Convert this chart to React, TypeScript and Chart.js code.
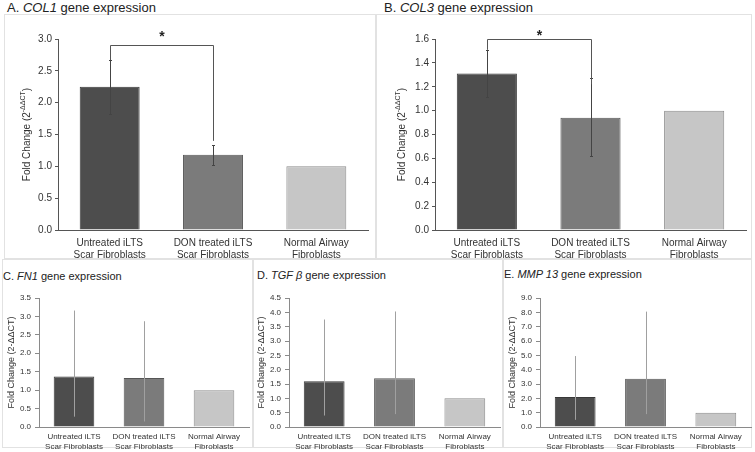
import React, { useEffect, useRef } from "react";
import { Chart, registerables } from "chart.js";
Chart.register(...registerables);

// ---------- data ----------
const categories = [
  ["Untreated iLTS", "Scar Fibroblasts"],
  ["DON treated iLTS", "Scar Fibroblasts"],
  ["Normal Airway", "Fibroblasts"],
];

const col1Values = [2.25, 1.18, 1.0];
const col1Low = [1.82, 1.02, null];
const col1High = [2.67, 1.33, null];
const col1Bracket = [2.9, 2.67, 1.4, 3.08]; // level, left end, right end, star
const col1Axis = [3.0, 0.5];

const col3Values = [1.31, 0.94, 1.0];
const col3Low = [1.11, 0.62, null];
const col3High = [1.51, 1.27, null];
const col3Bracket = [1.6, 1.51, 1.22, 1.65];
const col3Axis = [1.6, 0.2];

const fn1Values = [1.37, 1.33, 1.0];
const fn1Low = [0.28, 0.15, null];
const fn1High = [3.16, 2.87, null];
const fn1Axis = [3.5, 0.5];

const tgfValues = [1.6, 1.7, 1.0];
const tgfLow = [0.4, 0.45, null];
const tgfHigh = [3.75, 4.03, null];
const tgfAxis = [4.5, 0.5];

const mmpValues = [2.1, 3.37, 1.0];
const mmpLow = [0.5, 0.9, null];
const mmpHigh = [4.95, 8.05, null];
const mmpAxis = [9.0, 1.0];

const barFill = ["#4d4d4d", "#7b7b7b", "#c6c6c6"];
const barEdge = ["#383838", "#555555", "#8c8c8c"];

const FONT = "'Liberation Sans', Arial, sans-serif";

type PanelCfg = {
  canvas: { left: number; top: number; width: number; height: number };
  area: { left: number; right: number; top: number; bottom: number };
  titleX: number;
  values: number[];
  low: (number | null)[];
  high: (number | null)[];
  axis: number[];
  bracket?: number[];
  big: boolean;
};

function Panel({ cfg }: { cfg: PanelCfg }) {
  const ref = useRef<HTMLCanvasElement | null>(null);
  useEffect(() => {
    const { canvas, area, big } = cfg;
    const fs = big ? 10 : 8;
    const titleFs = big ? 10 : 9;
    const axisColor = big ? "#555555" : "#8a8a8a";
    const padLeft = 0;
    const yWidth = area.left - canvas.left - padLeft;
    const padRight = canvas.left + canvas.width - area.right;
    const padTop = area.top - canvas.top;
    const xHeight = big ? 30 : 22;
    const padBottom = canvas.top + canvas.height - area.bottom - xHeight;

    const overlay = {
      id: "overlay" + Math.random(),
      afterDraw(chart: any) {
        const ctx = chart.ctx;
        const ys = chart.scales.y;
        const meta = chart.getDatasetMeta(0);
        ctx.save();
        // error bars
        ctx.strokeStyle = big ? "#444444" : "#a0a0a0";
        ctx.lineWidth = 1;
        cfg.values.forEach((_, i) => {
          const lo = cfg.low[i];
          const hi = cfg.high[i];
          if (lo == null || hi == null) return;
          const x = Math.round(meta.data[i].x) + 0.5;
          const y1 = ys.getPixelForValue(lo);
          const y2 = ys.getPixelForValue(hi);
          ctx.beginPath();
          ctx.moveTo(x, y1);
          ctx.lineTo(x, y2);
          if (big) {
            ctx.moveTo(x - 1.5, Math.round(y1) + 0.5);
            ctx.lineTo(x + 1.5, Math.round(y1) + 0.5);
            ctx.moveTo(x - 1.5, Math.round(y2) + 0.5);
            ctx.lineTo(x + 1.5, Math.round(y2) + 0.5);
          }
          ctx.stroke();
        });
        // significance bracket
        if (cfg.bracket) {
          const [lvl, le, re, st] = cfg.bracket;
          const x0 = Math.round(meta.data[0].x) + 0.5;
          const x1 = Math.round(meta.data[1].x) + 0.5;
          const yl = Math.round(ys.getPixelForValue(lvl)) + 0.5;
          ctx.strokeStyle = "#555555";
          ctx.beginPath();
          ctx.moveTo(x0, ys.getPixelForValue(le));
          ctx.lineTo(x0, yl);
          ctx.lineTo(x1, yl);
          ctx.lineTo(x1, ys.getPixelForValue(re));
          ctx.stroke();
          ctx.fillStyle = "#222222";
          ctx.font = `bold 14px ${FONT}`;
          ctx.textAlign = "center";
          ctx.textBaseline = "middle";
          ctx.fillText("*", (x0 + x1) / 2, ys.getPixelForValue(st) + 3);
        }
        // y-axis title
        const cy = (chart.chartArea.top + chart.chartArea.bottom) / 2;
        const tx = cfg.titleX - canvas.left;
        ctx.translate(tx, cy);
        ctx.rotate(-Math.PI / 2);
        ctx.fillStyle = "#333333";
        ctx.textBaseline = "middle";
        ctx.textAlign = "left";
        const main = `${titleFs}px ${FONT}`;
        if (big) {
          const sub = `${titleFs - 3}px ${FONT}`;
          const p1 = "Fold Change (2";
          const p2 = "-ΔΔCT";
          const p3 = ")";
          ctx.font = main;
          const w1 = ctx.measureText(p1).width;
          const w3 = ctx.measureText(p3).width;
          ctx.font = sub;
          const w2 = ctx.measureText(p2).width;
          let x = -(w1 + w2 + w3) / 2;
          ctx.font = main;
          ctx.fillText(p1, x, 0);
          x += w1;
          ctx.font = sub;
          ctx.fillText(p2, x, -4);
          x += w2;
          ctx.font = main;
          ctx.fillText(p3, x, 0);
        } else {
          ctx.font = main;
          ctx.textAlign = "center";
          ctx.fillText("Fold Change (2-ΔΔCT)", 0, 0);
        }
        ctx.restore();
      },
    };

    const chart = new Chart(ref.current as HTMLCanvasElement, {
      type: "bar",
      data: {
        labels: categories,
        datasets: [
          {
            data: cfg.values,
            backgroundColor: barFill,
            borderColor: barEdge,
            borderWidth: 1,
            barPercentage: 0.58,
            categoryPercentage: 1,
          },
        ],
      },
      options: {
        responsive: false,
        animation: false,
        layout: {
          padding: { left: padLeft, right: padRight, top: padTop, bottom: padBottom },
        },
        plugins: {
          legend: { display: false },
          tooltip: { enabled: false },
          title: { display: false },
        },
        scales: {
          x: {
            grid: { display: false, drawTicks: false },
            border: { display: true, color: axisColor, width: 1 },
            ticks: {
              color: "#333333",
              font: { family: FONT, size: fs },
              padding: big ? 7 : 5,
              maxRotation: 0,
              autoSkip: false,
            },
            afterFit: (s: any) => {
              s.height = xHeight;
            },
          },
          y: {
            min: 0,
            max: cfg.axis[0],
            grid: {
              drawOnChartArea: false,
              drawTicks: true,
              tickLength: big ? 3 : 4,
              color: axisColor,
            },
            border: { display: true, color: axisColor, width: 1 },
            ticks: {
              stepSize: cfg.axis[1],
              color: "#333333",
              font: { family: FONT, size: fs },
              padding: big ? 3 : 4,
              callback: (v: any) => Number(v).toFixed(1),
            },
            afterFit: (s: any) => {
              s.width = yWidth;
            },
          },
        },
      },
      plugins: [overlay],
    });
    return () => chart.destroy();
  }, [cfg]);
  const { left, top, width, height } = cfg.canvas;
  return (
    <canvas
      ref={ref}
      width={width}
      height={height}
      style={{ position: "absolute", left, top, width, height }}
    />
  );
}

const panels: PanelCfg[] = [
  {
    canvas: { left: 0, top: 18, width: 375, height: 246 },
    area: { left: 58, right: 368, top: 39, bottom: 230 },
    titleX: 27,
    values: col1Values,
    low: col1Low,
    high: col1High,
    axis: col1Axis,
    bracket: col1Bracket,
    big: true,
  },
  {
    canvas: { left: 375, top: 18, width: 380, height: 246 },
    area: { left: 435, right: 746, top: 39, bottom: 230 },
    titleX: 402,
    values: col3Values,
    low: col3Low,
    high: col3High,
    axis: col3Axis,
    bracket: col3Bracket,
    big: true,
  },
  {
    canvas: { left: 0, top: 284, width: 252, height: 168 },
    area: { left: 39, right: 249, top: 298, bottom: 427 },
    titleX: 12,
    values: fn1Values,
    low: fn1Low,
    high: fn1High,
    axis: fn1Axis,
    big: false,
  },
  {
    canvas: { left: 252, top: 284, width: 252, height: 168 },
    area: { left: 289, right: 500, top: 298, bottom: 427 },
    titleX: 262,
    values: tgfValues,
    low: tgfLow,
    high: tgfHigh,
    axis: tgfAxis,
    big: false,
  },
  {
    canvas: { left: 504, top: 284, width: 251, height: 168 },
    area: { left: 540, right: 751, top: 298, bottom: 427 },
    titleX: 513,
    values: mmpValues,
    low: mmpLow,
    high: mmpHigh,
    axis: mmpAxis,
    big: false,
  },
];

const titleBase: React.CSSProperties = {
  position: "absolute",
  fontFamily: FONT,
  color: "#222222",
  whiteSpace: "nowrap",
};

const boxes = [
  { left: 4, top: 14, width: 372, height: 245 },
  { left: 376, top: 14, width: 376, height: 245 },
  { left: 2, top: 259, width: 251, height: 189 },
  { left: 253, top: 259, width: 250, height: 189 },
  { left: 503, top: 259, width: 249, height: 189 },
];

export default function App() {
  return (
    <div
      style={{
        position: "absolute",
        left: 0,
        top: 0,
        width: 755,
        height: 452,
        background: "#ffffff",
        overflow: "hidden",
      }}
    >
      {boxes.map((b, i) => (
        <div
          key={i}
          style={{
            position: "absolute",
            left: b.left,
            top: b.top,
            width: b.width,
            height: b.height,
            border: "1px solid #e2e2e2",
            boxSizing: "border-box",
          }}
        />
      ))}
      {panels.map((p, i) => (
        <Panel key={i} cfg={p} />
      ))}
      <div style={{ ...titleBase, left: 7, top: 0, fontSize: 13, lineHeight: "16px" }}>
        A. <i>COL1</i> gene expression
      </div>
      <div style={{ ...titleBase, left: 384, top: 0, fontSize: 13, lineHeight: "16px" }}>
        B. <i>COL3</i> gene expression
      </div>
      <div style={{ ...titleBase, left: 3, top: 269, fontSize: 11, lineHeight: "14px" }}>
        C. <i>FN1</i> gene expression
      </div>
      <div style={{ ...titleBase, left: 257, top: 268, fontSize: 11, lineHeight: "14px" }}>
        D. <i>TGF β</i> gene expression
      </div>
      <div style={{ ...titleBase, left: 504, top: 267, fontSize: 11, lineHeight: "14px" }}>
        E. <i>MMP 13</i> gene expression
      </div>
    </div>
  );
}
